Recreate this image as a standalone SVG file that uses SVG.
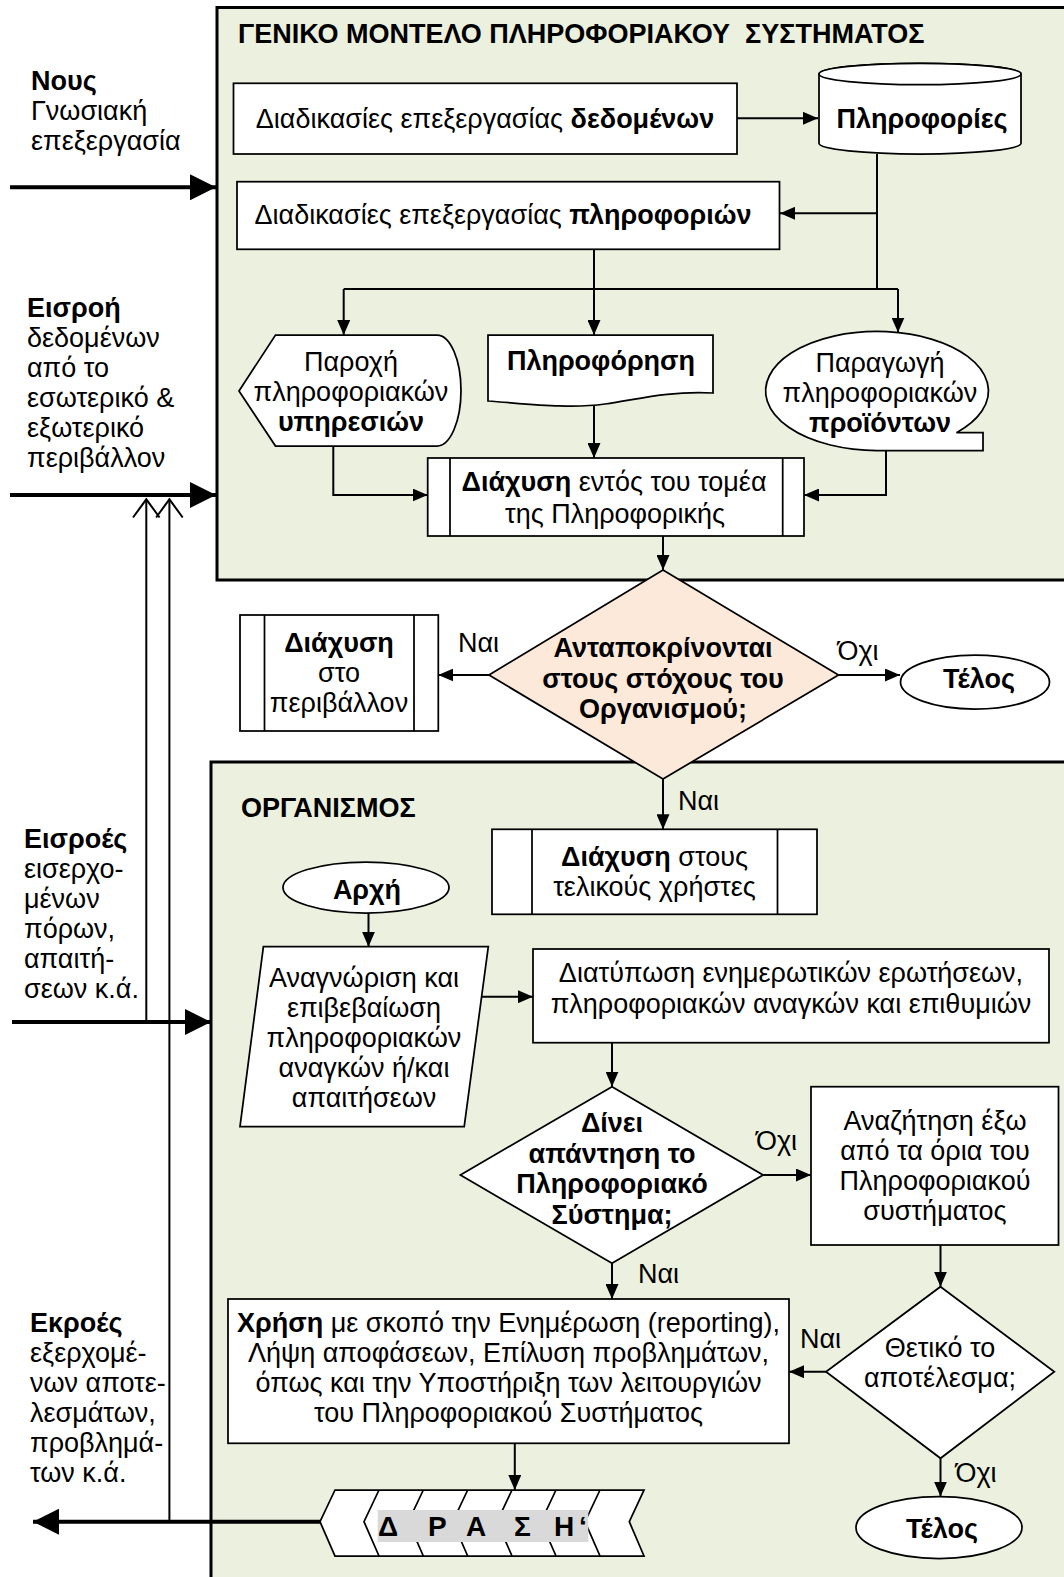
<svg xmlns="http://www.w3.org/2000/svg" width="1064" height="1577" viewBox="0 0 1064 1577">
  <style>
    .t { font-family: "Liberation Sans", Arial, sans-serif; font-size: 27px; fill: #000; }
    .m { text-anchor: middle; }
    .b { font-weight: bold; }
    .node { fill: #fff; stroke: #000; stroke-width: 1.75; }
    .zone { fill: #ebf1de; stroke: #000; stroke-width: 3; }
    .c { fill: none; stroke: #000; stroke-width: 2; }
    .a { marker-end: url(#ah); }
    .thick { fill: none; stroke: #000; stroke-width: 4; marker-end: url(#ahb); }
  </style>
  <defs>
    <marker id="ah" viewBox="0 0 15 13" refX="15" refY="6.5" markerWidth="15" markerHeight="13" markerUnits="userSpaceOnUse" orient="auto">
      <path d="M0,0 L15,6.5 L0,13 Z" fill="#000"/>
    </marker>
    <marker id="ahb" viewBox="0 0 26 26" refX="26" refY="13" markerWidth="26" markerHeight="26" markerUnits="userSpaceOnUse" orient="auto">
      <path d="M0,0 L26,13 L0,26 Z" fill="#000"/>
    </marker>
  </defs>

  <!-- background zones -->
  <g id="zone-system">
    <rect class="zone" x="217" y="7.5" width="900" height="572.5"/>
    <text class="t b" x="238" y="43" style="white-space:pre">ΓΕΝΙΚΟ ΜΟΝΤΕΛΟ ΠΛΗΡΟΦΟΡΙΑΚΟΥ  ΣΥΣΤΗΜΑΤΟΣ</text>
  </g>
  <g id="zone-organisation">
    <rect class="zone" x="211" y="762" width="900" height="900"/>
    <text class="t b" x="241" y="817">ΟΡΓΑΝΙΣΜΟΣ</text>
  </g>

  <!-- side labels -->
  <g id="label-mind">
    <text class="t b" x="31" y="90">Νους</text>
    <text class="t" x="31" y="120">Γνωσιακή</text>
    <text class="t" x="31" y="150">επεξεργασία</text>
  </g>
  <g id="label-input">
    <text class="t b" x="27" y="317">Εισροή</text>
    <text class="t" x="27" y="347">δεδομένων</text>
    <text class="t" x="27" y="377">από το</text>
    <text class="t" x="27" y="407">εσωτερικό &amp;</text>
    <text class="t" x="27" y="437">εξωτερικό</text>
    <text class="t" x="27" y="467">περιβάλλον</text>
  </g>
  <g id="label-inputs">
    <text class="t b" x="24" y="848">Εισροές</text>
    <text class="t" x="24" y="878">εισερχο-</text>
    <text class="t" x="24" y="908">μένων</text>
    <text class="t" x="24" y="938">πόρων,</text>
    <text class="t" x="24" y="968">απαιτή-</text>
    <text class="t" x="24" y="998">σεων κ.ά.</text>
  </g>
  <g id="label-outputs">
    <text class="t b" x="30" y="1332">Εκροές</text>
    <text class="t" x="30" y="1362">εξερχομέ-</text>
    <text class="t" x="30" y="1392">νων αποτε-</text>
    <text class="t" x="30" y="1422">λεσμάτων,</text>
    <text class="t" x="30" y="1452">προβλημά-</text>
    <text class="t" x="30" y="1482">των κ.ά.</text>
  </g>

  <!-- connectors -->
  <g id="connectors">
    <path class="thick" d="M10,187.3 H216"/>
    <path class="thick" d="M10,495 H216"/>
    <path class="thick" d="M12,1022 H211"/>
    <path class="thick" d="M320,1521.7 H33"/>
    <path class="c" d="M146.3,1022 V500"/>
    <path class="c" d="M169.4,1521.7 V500"/>
    <polyline class="c" points="133,517.5 146.3,499.3 159.6,517.5"/>
    <polyline class="c" points="156.1,517.5 169.4,499.3 182.7,517.5"/>

    <path class="c a" d="M737,118.3 H818"/>
    <path class="c" d="M877,154 V289"/>
    <path class="c a" d="M877,213.3 H780"/>
    <path class="c" d="M594,249.3 V289"/>
    <path class="c" d="M343.7,289 H898"/>
    <path class="c a" d="M343.7,289 V335"/>
    <path class="c a" d="M594,289 V335"/>
    <path class="c a" d="M898,289 V332.6"/>
    <path class="c a" d="M333.3,446 V495 H427.7"/>
    <path class="c a" d="M594,404 V458"/>
    <path class="c a" d="M886,450.5 V495 H804"/>
    <path class="c a" d="M663,536 V570"/>
    <path class="c a" d="M489,675 H438.3"/>
    <path class="c a" d="M838.5,675 H900"/>
    <path class="c a" d="M663,779 V829.3"/>
    <path class="c a" d="M368.5,913 V946.7"/>
    <path class="c a" d="M481.6,996.7 H533"/>
    <path class="c a" d="M612,1042.7 V1086.7"/>
    <path class="c a" d="M763,1175 H811"/>
    <path class="c a" d="M940.5,1245 V1286.7"/>
    <path class="c a" d="M826,1371.7 H789"/>
    <path class="c a" d="M612,1263.3 V1299"/>
    <path class="c a" d="M940.5,1458.3 V1496.5"/>
    <path class="c a" d="M514.8,1443.3 V1490"/>

    <text class="t" x="458" y="652">Ναι</text>
    <text class="t" x="837.5" y="660">Όχι</text>
    <text class="t" x="678" y="810">Ναι</text>
    <text class="t" x="756" y="1150">Όχι</text>
    <text class="t" x="638" y="1283">Ναι</text>
    <text class="t" x="800" y="1348">Ναι</text>
    <text class="t" x="955.5" y="1482">Όχι</text>
  </g>

  <!-- system nodes -->
  <g id="data-processing">
    <rect class="node" x="233.5" y="83.3" width="503.5" height="70.7"/>
    <text class="t m" x="485" y="128.3">Διαδικασίες επεξεργασίας <tspan class="b">δεδομένων</tspan></text>
  </g>
  <g id="information-store">
    <path class="node" d="M819,74 L819,143.3 A101,10.7 0 0 0 1021,143.3 L1021,74 A101,10.7 0 0 0 819,74 Z"/>
    <ellipse class="node" cx="920" cy="74" rx="101" ry="10.7"/>
    <text class="t m b" x="922" y="128.3">Πληροφορίες</text>
  </g>
  <g id="information-processing">
    <rect class="node" x="237" y="181.7" width="542.5" height="67.6"/>
    <text class="t m" x="503" y="224">Διαδικασίες επεξεργασίας <tspan class="b">πληροφοριών</tspan></text>
  </g>
  <g id="services">
    <path class="node" d="M239,391 L275.5,335 L437,335 A24,55.5 0 0 1 437,446 L275.5,446 Z"/>
    <text class="t m" x="351" y="371">Παροχή</text>
    <text class="t m" x="351" y="401">πληροφοριακών</text>
    <text class="t m b" x="351" y="431">υπηρεσιών</text>
  </g>
  <g id="informing">
    <path class="node" d="M488,335 H713 V393 C665,391 640,399 605,404 C570,409 530,404 488,401 Z"/>
    <text class="t m b" x="601" y="370">Πληροφόρηση</text>
  </g>
  <g id="products">
    <path class="node" d="M956.5,432.7 A111.4,59.5 0 1 0 877,450.5 L983,450.5 L983,432.7 Z"/>
    <text class="t m" x="880" y="372">Παραγωγή</text>
    <text class="t m" x="880" y="402">πληροφοριακών</text>
    <text class="t m b" x="880" y="432">προϊόντων</text>
  </g>
  <g id="diffusion-sector">
    <rect class="node" x="427.7" y="458" width="376.3" height="78"/>
    <path class="c" d="M450,458 V536 M782.7,458 V536" style="stroke-width:1.75"/>
    <text class="t m" x="614" y="491"><tspan class="b">Διάχυση</tspan> εντός του τομέα</text>
    <text class="t m" x="615" y="523">της Πληροφορικής</text>
  </g>

  <!-- decision between the two zones -->
  <g id="goals-decision">
    <polygon class="node" points="663,570 838.5,675 663,779 489,675" style="fill:#fde9d9"/>
    <text class="t m b" x="663" y="657">Ανταποκρίνονται</text>
    <text class="t m b" x="663" y="688">στους στόχους του</text>
    <text class="t m b" x="663" y="718">Οργανισμού;</text>
  </g>
  <g id="diffusion-environment">
    <rect class="node" x="240" y="615" width="198.3" height="116"/>
    <path class="c" d="M264.5,615 V731 M414,615 V731" style="stroke-width:1.75"/>
    <text class="t m b" x="339" y="652">Διάχυση</text>
    <text class="t m" x="339" y="682">στο</text>
    <text class="t m" x="339" y="712">περιβάλλον</text>
  </g>
  <g id="end-top">
    <ellipse class="node" cx="975" cy="682" rx="74.5" ry="27"/>
    <text class="t m b" x="979" y="688">Τέλος</text>
  </g>

  <!-- organisation nodes -->
  <g id="diffusion-users">
    <rect class="node" x="492" y="829.3" width="325" height="85"/>
    <path class="c" d="M532,829.3 V914.3 M777.5,829.3 V914.3" style="stroke-width:1.75"/>
    <text class="t m" x="654.5" y="866"><tspan class="b">Διάχυση</tspan> στους</text>
    <text class="t m" x="654.5" y="896">τελικούς χρήστες</text>
  </g>
  <g id="start">
    <ellipse class="node" cx="366" cy="887.5" rx="83" ry="25.5"/>
    <text class="t m b" x="367" y="899">Αρχή</text>
  </g>
  <g id="needs-identification">
    <polygon class="node" points="263.4,946.7 488.3,946.7 464.2,1126.7 240,1126.7"/>
    <text class="t m" x="364" y="987">Αναγνώριση και</text>
    <text class="t m" x="364" y="1017">επιβεβαίωση</text>
    <text class="t m" x="364" y="1047">πληροφοριακών</text>
    <text class="t m" x="364" y="1077">αναγκών ή/και</text>
    <text class="t m" x="364" y="1107">απαιτήσεων</text>
  </g>
  <g id="questions">
    <rect class="node" x="533" y="949" width="516" height="93.7"/>
    <text class="t m" x="791" y="982">Διατύπωση ενημερωτικών ερωτήσεων,</text>
    <text class="t m" x="791" y="1013">πληροφοριακών αναγκών και επιθυμιών</text>
  </g>
  <g id="answer-decision">
    <polygon class="node" points="612,1086.7 763,1175 612,1263.3 460.4,1175"/>
    <text class="t m b" x="612" y="1132">Δίνει</text>
    <text class="t m b" x="612" y="1162.5">απάντηση το</text>
    <text class="t m b" x="612" y="1193">Πληροφοριακό</text>
    <text class="t m b" x="612" y="1223.5">Σύστημα;</text>
  </g>
  <g id="external-search">
    <rect class="node" x="811" y="1086.7" width="247.5" height="158.3"/>
    <text class="t m" x="935" y="1130">Αναζήτηση έξω</text>
    <text class="t m" x="935" y="1160">από τα όρια του</text>
    <text class="t m" x="935" y="1190">Πληροφοριακού</text>
    <text class="t m" x="935" y="1220">συστήματος</text>
  </g>
  <g id="result-decision">
    <polygon class="node" points="940.5,1286.7 1054.3,1371.7 940.5,1458.3 826,1371.7"/>
    <text class="t m" x="940" y="1357">Θετικό το</text>
    <text class="t m" x="940" y="1387">αποτέλεσμα;</text>
  </g>
  <g id="usage">
    <rect class="node" x="228" y="1299" width="561" height="144.3"/>
    <text class="t m" x="508.5" y="1331.7"><tspan class="b">Χρήση</tspan> με σκοπό την Ενημέρωση (reporting),</text>
    <text class="t m" x="508.5" y="1361.7">Λήψη αποφάσεων, Επίλυση προβλημάτων,</text>
    <text class="t m" x="508.5" y="1391.7">όπως και την Υποστήριξη των λειτουργιών</text>
    <text class="t m" x="508.5" y="1421.7">του Πληροφοριακού Συστήματος</text>
  </g>
  <g id="action">
    <polygon class="node" points="335,1490 644,1490 629.3,1521.7 644,1556 335,1556 320,1521.7"/>
    <path class="c" style="stroke-width:1.75" d="M379,1490 L364,1521.7 L379,1556 M423.3,1490 L408.3,1521.7 L423.3,1556 M467.7,1490 L452.7,1521.7 L467.7,1556 M512,1490 L497,1521.7 L512,1556 M556,1490 L541,1521.7 L556,1556 M600,1490 L585,1521.7 L600,1556"/>
    <rect x="377.7" y="1510" width="210.6" height="32" fill="#d9d9d9"/>
    <text class="t b" x="378 428 466 514 554 579" y="1536" style="font-size:28px">ΔΡΑΣΗ‘</text>
  </g>
  <g id="end-bottom">
    <ellipse class="node" cx="939" cy="1527.5" rx="83" ry="31"/>
    <text class="t m b" x="942" y="1538">Τέλος</text>
  </g>
</svg>
